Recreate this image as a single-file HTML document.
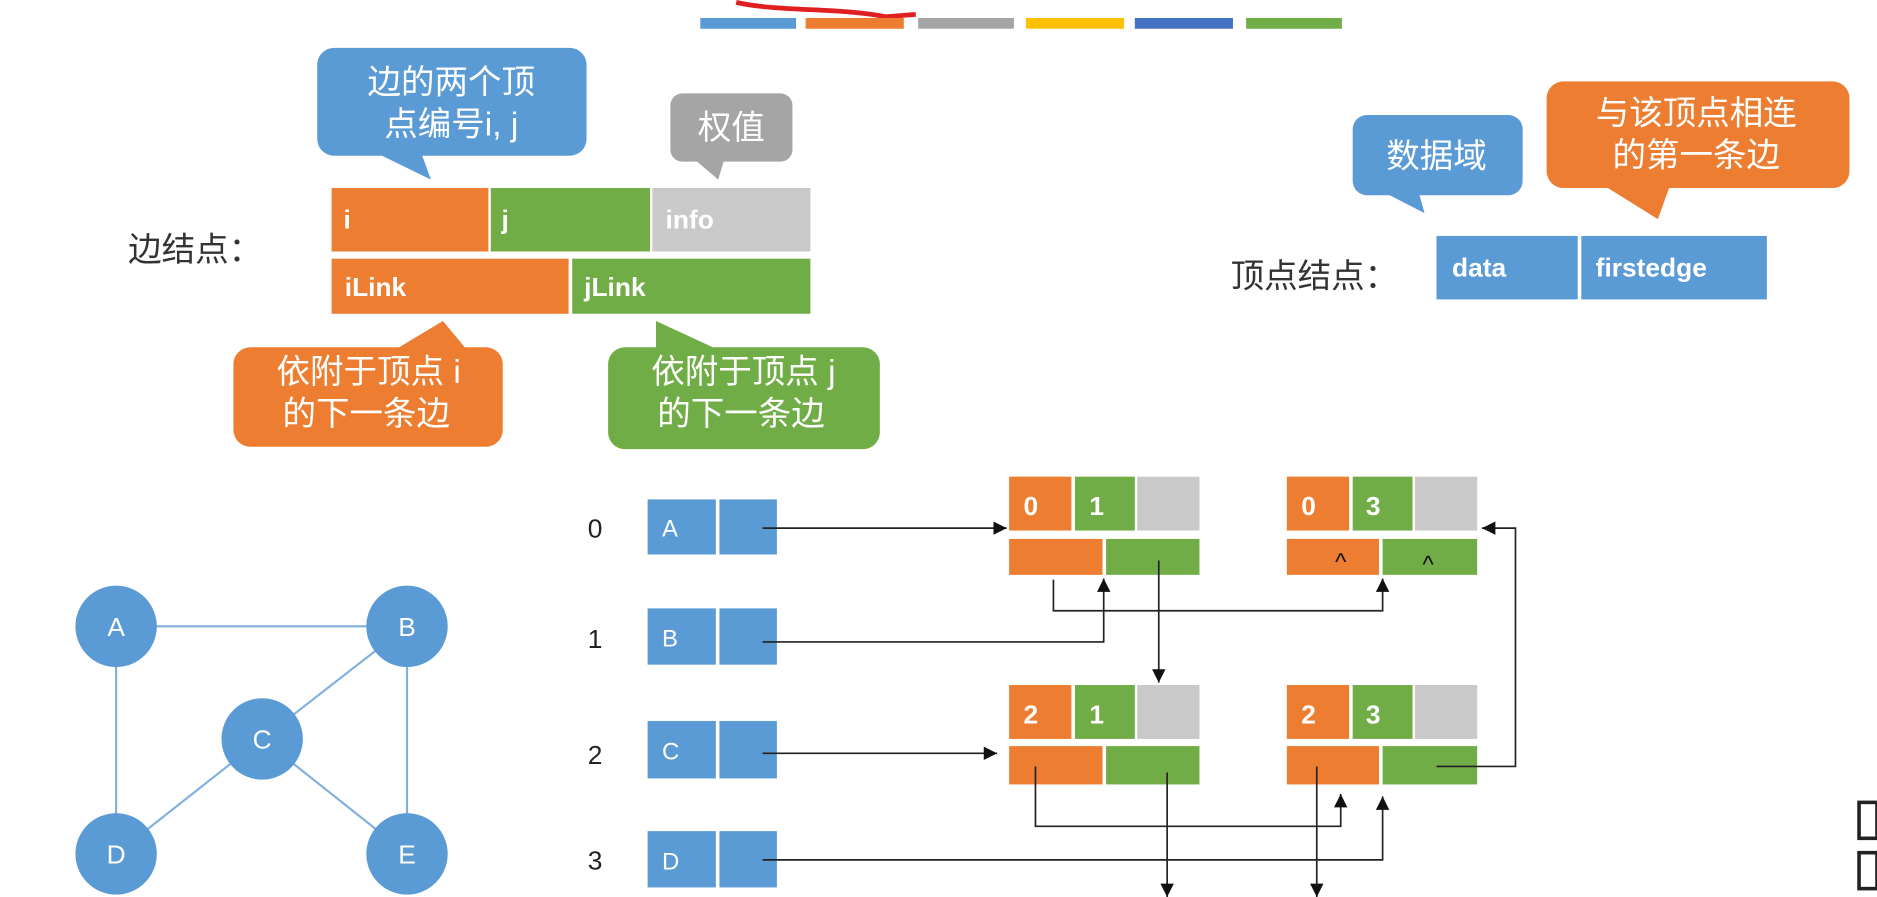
<!DOCTYPE html>
<html><head><meta charset="utf-8"><style>
html,body{margin:0;padding:0;background:#fff;overflow:hidden}
svg{display:block}
text{font-family:"Liberation Sans","Noto Sans CJK SC",sans-serif}
.w{fill:#fff}
.cn{font-size:28px;fill:#fff}
.lb{font-size:22px;fill:#fff;font-weight:bold}
.ln{stroke:#222;stroke-width:1.4;fill:none}
</style></head><body>
<svg width="1877" height="897" viewBox="0 0 1568 749" preserveAspectRatio="none">
<defs><marker id="ar" viewBox="0 0 10 10" refX="10" refY="5" markerWidth="8" markerHeight="8" orient="auto-start-reverse"><path d="M0,0L10,5L0,10z" fill="#111"/></marker></defs>
<!-- top bars -->
<path d="M615,2 C650,10 700,6 740,14 L765,12" stroke="#e02020" stroke-width="4" fill="none"/>
<rect x="585" y="15" width="80" height="9" fill="#5b9bd5"/>
<rect x="673" y="15" width="82" height="9" fill="#ed7d31"/>
<rect x="767" y="15" width="80" height="9" fill="#a5a5a5"/>
<rect x="857" y="15" width="82" height="9" fill="#ffc000"/>
<rect x="948" y="15" width="82" height="9" fill="#4472c4"/>
<rect x="1041" y="15" width="80" height="9" fill="#70ad47"/>
<!-- callouts -->
<rect x="265" y="40" width="225" height="90" rx="14" fill="#5b9bd5"/>
<path d="M315,128 L360,150 L352,128z" fill="#5b9bd5"/>
<text class="cn" x="377" y="78" text-anchor="middle">边的两个顶</text>
<text class="cn" x="377" y="113" text-anchor="middle">点编号i, j</text>
<rect x="560" y="78" width="102" height="57" rx="10" fill="#a5a5a5"/>
<path d="M580,133 L600,150 L605,133z" fill="#a5a5a5"/>
<text class="cn" x="611" y="116" text-anchor="middle">权值</text>
<text x="107" y="218" font-size="28" fill="#333">边结点：</text>
<rect x="277" y="157" width="131" height="53" fill="#ed7d31"/>
<rect x="410" y="157" width="133" height="53" fill="#70ad47"/>
<rect x="545" y="157" width="132" height="53" fill="#c9c9c9"/>
<text class="lb" x="287" y="191">i</text><text class="lb" x="419" y="191">j</text><text class="lb" x="556" y="191">info</text>
<rect x="277" y="216" width="198" height="46" fill="#ed7d31"/>
<rect x="478" y="216" width="199" height="46" fill="#70ad47"/>
<text class="lb" x="288" y="247" font-weight="normal">iLink</text><text class="lb" x="488" y="247">jLink</text>
<rect x="195" y="290" width="225" height="83" rx="14" fill="#ed7d31"/>
<path d="M330,292 L370,268 L390,292z" fill="#ed7d31"/>
<text class="cn" x="308" y="320" text-anchor="middle">依附于顶点 i</text>
<text class="cn" x="306" y="355" text-anchor="middle">的下一条边</text>
<rect x="508" y="290" width="227" height="85" rx="14" fill="#70ad47"/>
<path d="M548,292 L548,268 L600,292z" fill="#70ad47"/>
<text class="cn" x="621" y="320" text-anchor="middle">依附于顶点 j</text>
<text class="cn" x="619" y="355" text-anchor="middle">的下一条边</text>
<rect x="1130" y="96" width="142" height="67" rx="12" fill="#5b9bd5"/>
<path d="M1155,160 L1190,178 L1185,160z" fill="#5b9bd5"/>
<text class="cn" x="1200" y="140" text-anchor="middle">数据域</text>
<rect x="1292" y="68" width="253" height="89" rx="14" fill="#ed7d31"/>
<path d="M1340,155 L1385,183 L1395,155z" fill="#ed7d31"/>
<text class="cn" x="1417" y="104" text-anchor="middle">与该顶点相连</text>
<text class="cn" x="1417" y="139" text-anchor="middle">的第一条边</text>
<text x="1028" y="240" font-size="28" fill="#333">顶点结点：</text>
<rect x="1200" y="197" width="118" height="53" fill="#5b9bd5"/>
<rect x="1321" y="197" width="155" height="53" fill="#5b9bd5"/>
<text class="lb" x="1213" y="231">data</text><text class="lb" x="1333" y="231">firstedge</text>
<!-- graph -->
<g stroke="#7fb0de" stroke-width="1.8">
<line x1="97" y1="523" x2="340" y2="523"/><line x1="97" y1="523" x2="97" y2="713"/>
<line x1="340" y1="523" x2="219" y2="617"/><line x1="340" y1="523" x2="340" y2="713"/>
<line x1="219" y1="617" x2="97" y2="713"/><line x1="219" y1="617" x2="340" y2="713"/>
</g>
<g fill="#5b9bd5"><circle cx="97" cy="523" r="34"/><circle cx="340" cy="523" r="34"/><circle cx="219" cy="617" r="34"/><circle cx="97" cy="713" r="34"/><circle cx="340" cy="713" r="34"/></g>
<g font-size="22" fill="#fff" text-anchor="middle"><text x="97" y="531">A</text><text x="340" y="531">B</text><text x="219" y="625">C</text><text x="97" y="721">D</text><text x="340" y="721">E</text></g>
<!-- vertex list -->
<g font-size="22" fill="#222"><text x="491" y="449">0</text><text x="491" y="541">1</text><text x="491" y="638">2</text><text x="491" y="726">3</text></g>
<g fill="#5b9bd5">
<rect x="541" y="417" width="57" height="46"/><rect x="601" y="417" width="48" height="46"/>
<rect x="541" y="508" width="57" height="47"/><rect x="601" y="508" width="48" height="47"/>
<rect x="541" y="602" width="57" height="48"/><rect x="601" y="602" width="48" height="48"/>
<rect x="541" y="694" width="57" height="47"/><rect x="601" y="694" width="48" height="47"/>
</g>
<g font-size="20" fill="#fff"><text x="553" y="448">A</text><text x="553" y="540">B</text><text x="553" y="634">C</text><text x="553" y="726">D</text></g>
<!-- edge nodes -->
<g>
<rect x="843" y="398" width="52" height="45" fill="#ed7d31"/><rect x="898" y="398" width="50" height="45" fill="#70ad47"/><rect x="950" y="398" width="52" height="45" fill="#c9c9c9"/>
<rect x="843" y="450" width="78" height="30" fill="#ed7d31"/><rect x="924" y="450" width="78" height="30" fill="#70ad47"/>
<rect x="1075" y="398" width="52" height="45" fill="#ed7d31"/><rect x="1130" y="398" width="50" height="45" fill="#70ad47"/><rect x="1182" y="398" width="52" height="45" fill="#c9c9c9"/>
<rect x="1075" y="450" width="77" height="30" fill="#ed7d31"/><rect x="1155" y="450" width="79" height="30" fill="#70ad47"/>
<rect x="843" y="572" width="52" height="45" fill="#ed7d31"/><rect x="898" y="572" width="50" height="45" fill="#70ad47"/><rect x="950" y="572" width="52" height="45" fill="#c9c9c9"/>
<rect x="843" y="623" width="78" height="32" fill="#ed7d31"/><rect x="924" y="623" width="78" height="32" fill="#70ad47"/>
<rect x="1075" y="572" width="52" height="45" fill="#ed7d31"/><rect x="1130" y="572" width="50" height="45" fill="#70ad47"/><rect x="1182" y="572" width="52" height="45" fill="#c9c9c9"/>
<rect x="1075" y="623" width="77" height="32" fill="#ed7d31"/><rect x="1155" y="623" width="79" height="32" fill="#70ad47"/>
</g>
<g class="lb" font-size="22">
<text class="lb" x="855" y="430">0</text><text class="lb" x="910" y="430">1</text>
<text class="lb" x="1087" y="430">0</text><text class="lb" x="1141" y="430">3</text>
<text class="lb" x="855" y="604">2</text><text class="lb" x="910" y="604">1</text>
<text class="lb" x="1087" y="604">2</text><text class="lb" x="1141" y="604">3</text>
</g>
<text x="1120" y="476" font-size="20" fill="#111" text-anchor="middle">^</text>
<text x="1193" y="478" font-size="20" fill="#111" text-anchor="middle">^</text>
<!-- connectors -->
<g class="ln">
<path d="M637,441 H841" marker-end="url(#ar)"/>
<path d="M637,536 H922 V483" marker-end="url(#ar)"/>
<path d="M880,484 V510 H1155 V483" marker-end="url(#ar)"/>
<path d="M968,468 V570" marker-end="url(#ar)"/>
<path d="M637,629 H833" marker-end="url(#ar)"/>
<path d="M865,640 V690 H1120 V663" marker-end="url(#ar)"/>
<path d="M975,645 V749" marker-end="url(#ar)"/>
<path d="M637,718 H1155 V665" marker-end="url(#ar)"/>
<path d="M1100,640 V749" marker-end="url(#ar)"/>
<path d="M1200,640 H1266 V441 H1238" marker-end="url(#ar)"/>
</g>
<rect x="1553" y="670" width="15" height="30" fill="none" stroke="#222" stroke-width="3"/>
<rect x="1553" y="712" width="15" height="30" fill="none" stroke="#222" stroke-width="3"/>
</svg>
</body></html>
